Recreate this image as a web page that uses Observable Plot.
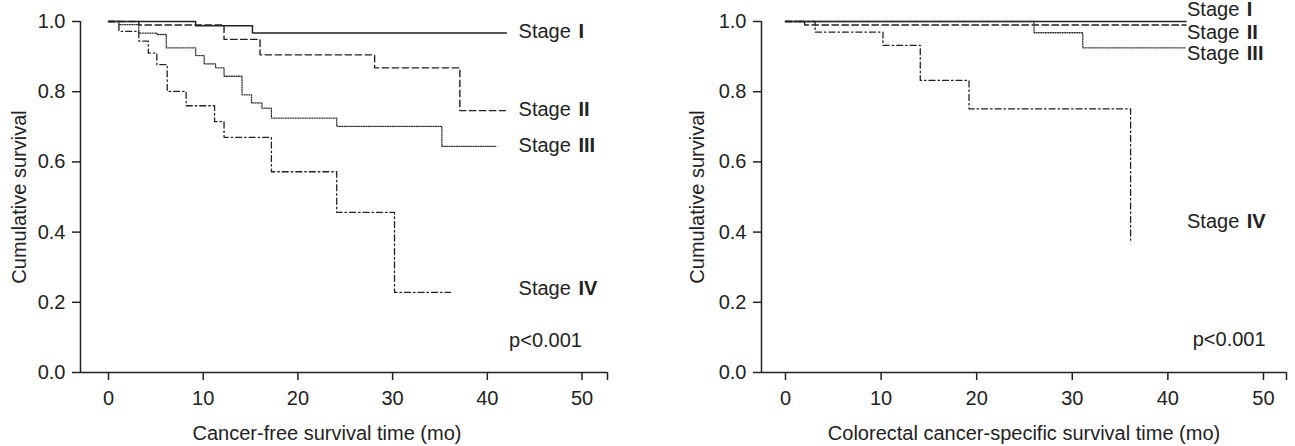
<!DOCTYPE html>
<html>
<head>
<meta charset="utf-8">
<script src="https://cdn.jsdelivr.net/npm/d3@7"></script>
<script src="https://cdn.jsdelivr.net/npm/@observablehq/plot@0.6"></script>
<style>
  body { margin: 0; background: white; }
  #wrap { display: flex; width: 1295px; height: 446px; }
  #wrap svg { flex: 0 0 auto; max-width: none !important; }
</style>
</head>
<body>
<div id="wrap"></div>
<script>
// ---------- data ----------
const stages = ["Stage I", "Stage II", "Stage III", "Stage IV"];
const xTicks = [0, 10, 20, 30, 40, 50];
const yTicks = [0, 0.2, 0.4, 0.6, 0.8, 1.0];

// Panel A: cancer-free survival (time in months, cumulative survival)
const cfsStageI_t   = [0, 9.2, 15.2, 42];
const cfsStageI_s   = [1, 0.988, 0.967, 0.967];
const cfsStageII_t  = [0, 3.2, 12.2, 16.0, 28.1, 37.1, 41.9];
const cfsStageII_s  = [1, 0.990, 0.949, 0.905, 0.868, 0.746, 0.746];
const cfsStageIII_t = [0, 1.1, 3.2, 5.1, 6.1, 9.2, 10.1, 11.3, 12.2, 14.1, 15.1, 16.2, 17.2, 24.1, 35.2, 41.0];
const cfsStageIII_s = [1, 0.991, 0.967, 0.963, 0.925, 0.903, 0.879, 0.868, 0.844, 0.791, 0.768, 0.753, 0.725, 0.701, 0.644, 0.644];
const cfsStageIV_t  = [0, 1.1, 3.2, 4.2, 5.1, 6.2, 8.2, 11.2, 12.2, 17.2, 24.1, 30.2, 36.1];
const cfsStageIV_s  = [1, 0.972, 0.944, 0.910, 0.877, 0.801, 0.760, 0.715, 0.670, 0.572, 0.456, 0.228, 0.228];

// Panel B: colorectal cancer-specific survival
const cssStageI_t   = [0, 41.9];
const cssStageI_s   = [1, 1];
const cssStageII_t  = [0, 2.0, 41.9];
const cssStageII_s  = [1, 0.990, 0.990];
const cssStageIII_t = [0, 26.0, 31.1, 41.9];
const cssStageIII_s = [1, 0.968, 0.925, 0.925];
const cssStageIV_t  = [0, 3.1, 10.2, 14.1, 19.2, 36.1];
const cssStageIV_s  = [1, 0.970, 0.932, 0.832, 0.751, 0.377];

// label positions (data coords)
const cfsLabelX = [43.3, 43.3, 43.3, 43.3];
const cfsLabelY = [0.971, 0.749, 0.646, 0.238];
const cssLabelX = [42.0, 42.0, 42.0, 42.0];
const cssLabelY = [1.034, 0.967, 0.909, 0.429];
const pText = "p<0.001";
const cfsP = [42.3, 0.092];
const cssP = [42.6, 0.095];

const xLabelA = "Cancer-free survival time (mo)";
const xLabelB = "Colorectal cancer-specific survival time (mo)";
const yLabel = "Cumulative survival";

// ---------- styling ----------
const INK = "#222";
const FONT = "'Liberation Sans', Arial, Helvetica, sans-serif";
const FS = 20;
const styles = {
  "Stage I":   {strokeWidth: 1.5, strokeDasharray: null, stroke: INK},
  "Stage II":  {strokeWidth: 1.4, strokeDasharray: "6.5,3.5", stroke: INK},
  "Stage III": {strokeWidth: 1.3, strokeDasharray: "1,1.4", stroke: "#333"},
  "Stage IV":  {strokeWidth: 1.3, strokeDasharray: "6,3,1.5,3", stroke: INK}
};

function rows(ts, ss) { return ts.map((t, i) => ({t, s: ss[i]})); }

function panel({series, labelX, labelY, p, xLabel, width, marginLeft, marginRight, xDomain, xLabelDx, yLabelDx}) {
  const [xa, xb] = xDomain;
  const marks = [];
  stages.forEach((st, i) => {
    const sty = styles[st];
    const o = {x: "t", y: "s", curve: "step-after", stroke: sty.stroke, strokeWidth: sty.strokeWidth};
    if (sty.strokeDasharray) o.strokeDasharray = sty.strokeDasharray;
    marks.push(Plot.line(series[i], o));
  });
  marks.push(
    Plot.ruleY([0], {stroke: INK, strokeWidth: 1.5}),
    Plot.ruleX([xa], {y1: 0, y2: 1, stroke: INK, strokeWidth: 1.5}),
    Plot.axisY(yTicks, {tickFormat: d3.format(".1f"), tickSize: 8, tickPadding: 7, strokeWidth: 1.5, label: null, fontSize: FS, fill: INK, stroke: INK}),
    Plot.axisX([...xTicks, xb], {tickFormat: d => (d === xb ? "" : String(d)), tickSize: 8, tickPadding: 10, strokeWidth: 1.5, label: null, fontSize: FS, fill: INK, stroke: INK}),
    Plot.text(stages.map((st, i) => ({st, x: labelX[i], y: labelY[i]})), {
      x: "x", y: "y", text: "st", textAnchor: "start", lineAnchor: "middle", fontSize: FS, fill: INK, ariaLabel: () => "stage"
    }),
    Plot.text([pText], {x: () => p[0], y: () => p[1], text: d => d, textAnchor: "start", lineAnchor: "middle", fontSize: FS, fill: INK}),
    Plot.text([xLabel], {frameAnchor: "bottom", dy: 61, dx: xLabelDx, textAnchor: "middle", lineAnchor: "middle", fontSize: FS, fill: INK}),
    Plot.text([yLabel], {frameAnchor: "left", dx: yLabelDx, rotate: -90, textAnchor: "middle", lineAnchor: "middle", fontSize: FS, fill: INK})
  );
  const svg = Plot.plot({
    width, height: 446,
    marginLeft, marginRight, marginTop: 21, marginBottom: 74,
    x: {domain: xDomain, axis: null},
    y: {domain: [0, 1], axis: null},
    style: {fontFamily: FONT, fontSize: FS + "px", color: INK, background: "white", overflow: "visible"},
    marks
  });
  // bold Roman numerals
  d3.select(svg).selectAll('text[aria-label="stage"]').each(function() {
    const txt = this.textContent;
    const k = txt.indexOf(" ");
    const sel = d3.select(this);
    sel.text(null);
    sel.append("tspan").text(txt.slice(0, k + 1));
    sel.append("tspan").attr("font-weight", "bold").attr("dx", "2").text(txt.slice(k + 1));
  });
  return svg;
}

const wrap = document.getElementById("wrap");
wrap.appendChild(panel({
  series: [rows(cfsStageI_t, cfsStageI_s), rows(cfsStageII_t, cfsStageII_s), rows(cfsStageIII_t, cfsStageIII_s), rows(cfsStageIV_t, cfsStageIV_s)],
  labelX: cfsLabelX, labelY: cfsLabelY, p: cfsP, xLabel: xLabelA,
  width: 647, marginLeft: 80, marginRight: 40, xDomain: [-2.957, 52.69], xLabelDx: -17, yLabelDx: -61
}));
wrap.appendChild(panel({
  series: [rows(cssStageI_t, cssStageI_s), rows(cssStageII_t, cssStageII_s), rows(cssStageIII_t, cssStageIII_s), rows(cssStageIV_t, cssStageIV_s)],
  labelX: cssLabelX, labelY: cssLabelY, p: cssP, xLabel: xLabelB,
  width: 648, marginLeft: 114, marginRight: 9, xDomain: [-2.51, 52.41], xLabelDx: 0, yLabelDx: -64
}));
</script>
</body>
</html>
